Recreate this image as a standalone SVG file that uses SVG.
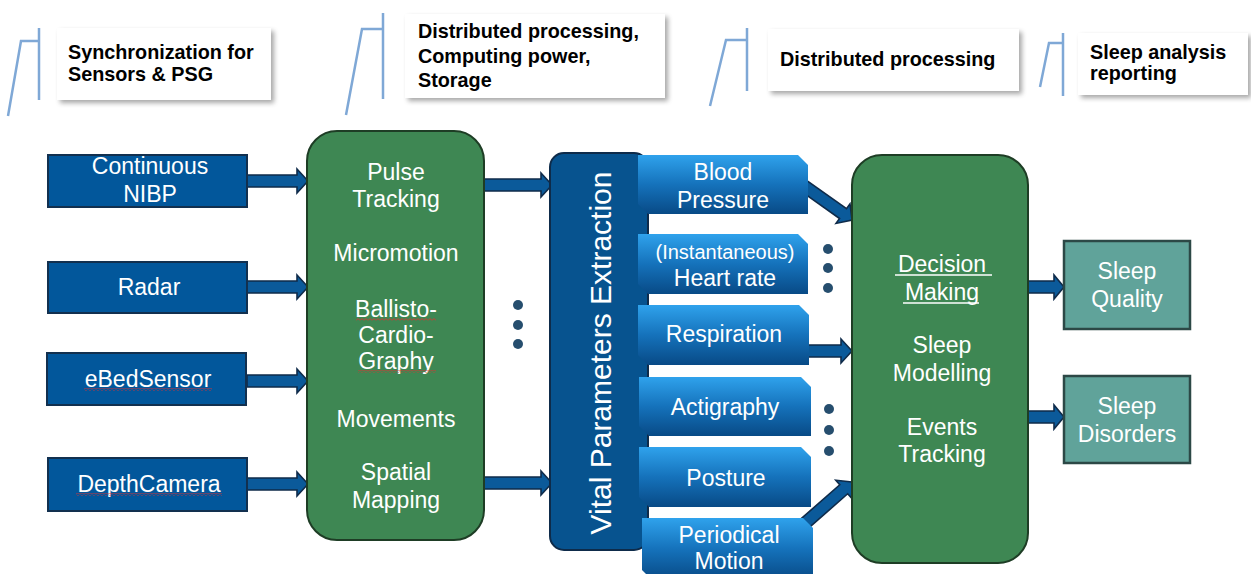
<svg xmlns="http://www.w3.org/2000/svg" width="1251" height="574" viewBox="0 0 1251 574">
<style>
  text { font-family: "Liberation Sans", Arial, sans-serif; }
  .cap { font-weight: bold; font-size: 19.8px; fill: #000; }
  .w { fill: #fff; font-size: 23px; text-anchor: middle; }
  .w.sm { font-size: 20px; }
  .callbox { fill: #fff; filter: url(#shadow); }
  .cline { fill: none; stroke: #7fa8d6; stroke-width: 2.5; }
  .src { fill: #02579b; stroke: #12304f; stroke-width: 2; }
  .proc { fill: #3e8753; stroke: #1e3d25; stroke-width: 2; }
  .out { fill: #60a39a; stroke: #2c4846; stroke-width: 2.5; }
  .tab { fill: url(#tabgrad); }
  .arr { fill: #0b5a9a; stroke: #0f2b4a; stroke-width: 1.6; stroke-linejoin: miter; }
  .dot { fill: #264e6e; }
  .sq { fill: url(#squig); }
</style>
<defs>
  <filter id="shadow" x="-10%" y="-20%" width="130%" height="150%">
    <feGaussianBlur in="SourceAlpha" stdDeviation="2.5"/>
    <feOffset dx="3" dy="3" result="b"/>
    <feComponentTransfer><feFuncA type="linear" slope="0.35"/></feComponentTransfer>
    <feMerge><feMergeNode/><feMergeNode in="SourceGraphic"/></feMerge>
  </filter>
  <linearGradient id="tabgrad" x1="0" y1="0" x2="0" y2="1">
    <stop offset="0" stop-color="#2fa2ec"/>
    <stop offset="0.5" stop-color="#1572bb"/>
    <stop offset="1" stop-color="#084a86"/>
  </linearGradient>
  <pattern id="squig" width="4" height="3" patternUnits="userSpaceOnUse">
    <path d="M0,2.5 L2,0.5 L4,2.5" fill="none" stroke="#e03030" stroke-width="0.9"/>
  </pattern>
</defs>

<!-- Callouts -->
<g id="callout1">
  <path class="cline" d="M8,116 L21,41 H39 M39,28 V100"/>
  <rect class="callbox" x="57" y="28" width="214" height="72"/>
  <text class="cap" x="68" y="59">Synchronization for</text>
  <text class="cap" x="68" y="81">Sensors &amp; PSG</text>
</g>
<g id="callout2">
  <path class="cline" d="M346,115 L362,29 H383 M383,13 V99"/>
  <rect class="callbox" x="405" y="14" width="260" height="84"/>
  <text class="cap" x="418" y="38">Distributed processing,</text>
  <text class="cap" x="418" y="63">Computing power,</text>
  <text class="cap" x="418" y="87">Storage</text>
</g>
<g id="callout3">
  <path class="cline" d="M710,106 L726,40 H747 M747,28 V91"/>
  <rect class="callbox" x="768" y="29" width="251" height="62"/>
  <text class="cap" x="780" y="66">Distributed processing</text>
</g>
<g id="callout4">
  <path class="cline" d="M1040,87 L1049,43 H1063 M1063,33 V96"/>
  <rect class="callbox" x="1078" y="33" width="170" height="62"/>
  <text class="cap" x="1090" y="59">Sleep analysis</text>
  <text class="cap" x="1090" y="80">reporting</text>
</g>

<!-- Connectors -->
<g id="connectors">
  <path class="arr" transform="translate(308,181)" d="M0,0 L-11,-12 V-6 H-61 V6 H-11 V12 Z"/>
  <path class="arr" transform="translate(308,287)" d="M0,0 L-11,-12 V-6 H-61 V6 H-11 V12 Z"/>
  <path class="arr" transform="translate(308,381)" d="M0,0 L-11,-12 V-6 H-61 V6 H-11 V12 Z"/>
  <path class="arr" transform="translate(308,484)" d="M0,0 L-11,-12 V-6 H-61 V6 H-11 V12 Z"/>
  <path class="arr" transform="translate(552,185)" d="M0,0 L-11,-12 V-6 H-68 V6 H-11 V12 Z"/>
  <path class="arr" transform="translate(552,483)" d="M0,0 L-11,-12 V-6 H-68 V6 H-11 V12 Z"/>
  <path class="arr" transform="translate(852,220) rotate(35.4)" d="M0,0 L-11,-12 V-6 H-64 V6 H-11 V12 Z"/>
  <path class="arr" transform="translate(852,351)" d="M0,0 L-11,-12 V-6 H-49 V6 H-11 V12 Z"/>
  <path class="arr" transform="translate(852,482) rotate(-41.3)" d="M0,0 L-11,-12 V-6 H-65 V6 H-11 V12 Z"/>
  <path class="arr" transform="translate(1064,287)" d="M0,0 L-10,-12 V-6 H-37 V6 H-10 V12 Z"/>
  <path class="arr" transform="translate(1064,417)" d="M0,0 L-10,-12 V-6 H-37 V6 H-10 V12 Z"/>
</g>

<!-- Sources -->
<g id="src-nibp">
  <rect class="src" x="48" y="155" width="199" height="52"/>
  <text class="w" x="150" y="174">Continuous</text>
  <text class="w" x="150" y="202">NIBP</text>
</g>
<g id="src-radar">
  <rect class="src" x="48" y="262" width="199" height="51"/>
  <text class="w" x="149" y="295">Radar</text>
</g>
<g id="src-ebed">
  <rect class="src" x="47" y="353" width="199" height="52"/>
  <text class="w" x="148" y="387">eBedSensor</text>
  <rect class="sq" x="84" y="388" width="128" height="3"/>
</g>
<g id="src-depth">
  <rect class="src" x="48" y="458" width="199" height="53"/>
  <text class="w" x="149" y="492">DepthCamera</text>
  <rect class="sq" x="76" y="493" width="146" height="3"/>
</g>

<!-- Processing -->
<g id="processing">
  <rect class="proc" x="307" y="131" width="177" height="409" rx="30"/>
  <text class="w" x="396" y="180">Pulse</text>
  <text class="w" x="396" y="207">Tracking</text>
  <text class="w" x="396" y="261">Micromotion</text>
  <text class="w" x="396" y="317">Ballisto-</text>
  <text class="w" x="396" y="343">Cardio-</text>
  <text class="w" x="396" y="369">Graphy</text>
  <rect class="sq" x="356" y="318" width="80" height="3"/>
  <rect class="sq" x="358" y="370" width="78" height="3"/>
  <text class="w" x="396" y="427">Movements</text>
  <text class="w" x="396" y="480">Spatial</text>
  <text class="w" x="396" y="508">Mapping</text>
</g>

<g id="dots1">
  <circle class="dot" cx="518" cy="305" r="5"/>
  <circle class="dot" cx="518" cy="325" r="5"/>
  <circle class="dot" cx="518" cy="344" r="5"/>
</g>

<!-- Vital parameters column -->
<g id="vital">
  <rect x="550" y="153" width="98" height="397" rx="14" fill="#07538f" stroke="#0e2b4a" stroke-width="2"/>
  <text transform="translate(611,353) rotate(-90)" x="0" y="0" fill="#fff" font-size="30" text-anchor="middle">Vital Parameters Extraction</text>
</g>

<g id="tab-bp">
  <path class="tab" d="M638,155 H798 L808,165 V214 H648 L638,204 Z"/>
  <text class="w" x="723" y="180">Blood</text>
  <text class="w" x="723" y="208">Pressure</text>
</g>
<g id="tab-hr">
  <path class="tab" d="M638,234 H798 L808,244 V294 H648 L638,284 Z"/>
  <text class="w sm" x="725" y="259">(Instantaneous)</text>
  <text class="w" x="725" y="286">Heart rate</text>
</g>
<g id="tab-resp">
  <path class="tab" d="M638,305 H799 L809,315 V365 H648 L638,355 Z"/>
  <text class="w" x="724" y="342">Respiration</text>
</g>
<g id="tab-acti">
  <path class="tab" d="M639,377 H801 L811,387 V436 H649 L639,426 Z"/>
  <text class="w" x="725" y="415">Actigraphy</text>
</g>
<g id="tab-posture">
  <path class="tab" d="M639,447 H801 L811,457 V507 H649 L639,497 Z"/>
  <text class="w" x="726" y="486">Posture</text>
</g>
<g id="tab-periodic">
  <path class="tab" d="M642,518 H803 L813,528 V580 H652 L642,570 Z"/>
  <text class="w" x="729" y="543">Periodical</text>
  <text class="w" x="729" y="569">Motion</text>
</g>

<g id="dots2">
  <circle class="dot" cx="828" cy="249" r="5"/>
  <circle class="dot" cx="828" cy="268" r="5"/>
  <circle class="dot" cx="828" cy="288" r="5"/>
</g>
<g id="dots3">
  <circle class="dot" cx="829" cy="409" r="5"/>
  <circle class="dot" cx="829" cy="430" r="5"/>
  <circle class="dot" cx="829" cy="451" r="5"/>
</g>

<!-- Decision -->
<g id="decision">
  <rect class="proc" x="852" y="155" width="176" height="408" rx="30"/>
  <text class="w" x="942" y="272">Decision </text>
  <line x1="895" y1="275" x2="992" y2="275" stroke="#fff" stroke-width="1.3"/>
  <text class="w" x="942" y="300">Making</text>
  <line x1="903" y1="303" x2="979" y2="303" stroke="#fff" stroke-width="1.3"/>
  <text class="w" x="942" y="353">Sleep</text>
  <text class="w" x="942" y="381">Modelling</text>
  <text class="w" x="942" y="435">Events</text>
  <text class="w" x="942" y="462">Tracking</text>
</g>

<!-- Outputs -->
<g id="out-quality">
  <rect class="out" x="1064" y="241" width="126" height="88"/>
  <text class="w" x="1127" y="279">Sleep</text>
  <text class="w" x="1127" y="307">Quality</text>
</g>
<g id="out-disorders">
  <rect class="out" x="1064" y="376" width="126" height="87"/>
  <text class="w" x="1127" y="414">Sleep</text>
  <text class="w" x="1127" y="442">Disorders</text>
</g>
</svg>
